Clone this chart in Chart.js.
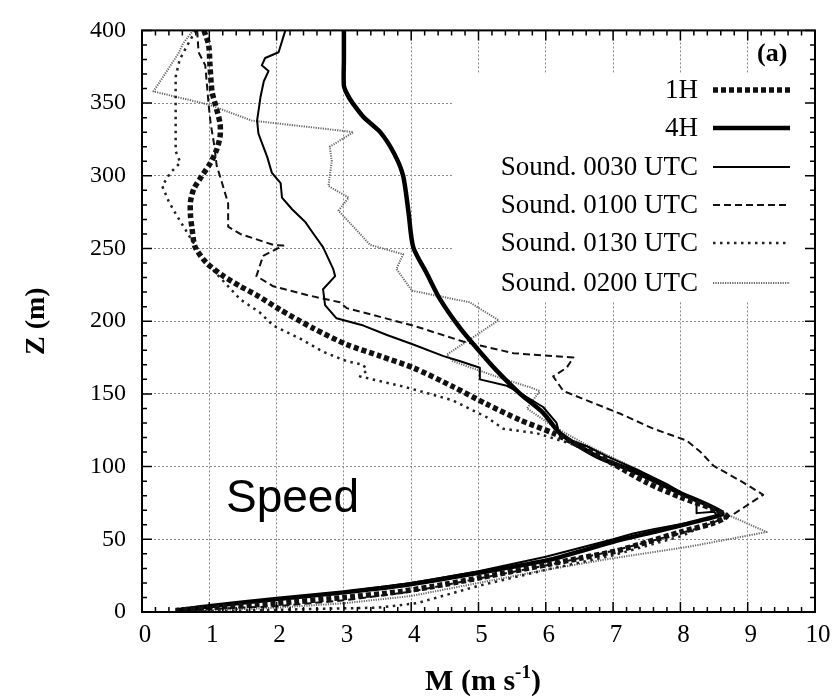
<!DOCTYPE html>
<html>
<head>
<meta charset="utf-8">
<script src="https://cdn.jsdelivr.net/npm/chart.js@4/dist/chart.umd.min.js"></script>
<style>
  html, body { margin: 0; padding: 0; background: #fff; }
  #c { display: block; }
</style>
</head>
<body>
<canvas id="c" width="838" height="699"></canvas>
<script>
// Wind speed profiles M (m s-1) against height Z (m): two model runs and four soundings.

const h1M = [0.92,0.99,1.01,1.04,1.09,1.16,1.16,1.11,1.02,0.89,0.77,0.72,0.72,0.74,0.79,0.96,1.21,1.46,1.70,2.05,2.55,3.04,3.54,4.03,4.62,5.12,5.62,6.11,6.51,7.00,7.50,8.00,8.48,8.69,8.48,8.00,7.50,7.05,6.51,6.06,5.07,4.50,3.83,3.00,2.00,1.00,0.50];
const h1Z = [400,390,376,358,349,336,327,318,309,300,291,282,273,265,251,240,231,224,218,208,195,184,176,168,155,143,132,123,114,102,89,79,71,66,61,55,48,42,37,33,24,19,14,10,6,3,1];

const h4M = [3.00,3.00,3.00,3.05,3.13,3.30,3.54,3.75,3.88,3.96,4.03,4.23,4.43,4.73,5.02,5.27,5.62,5.96,6.21,6.76,7.35,7.99,8.62,8.30,7.60,7.05,6.06,5.00,3.83,3.00,2.00,1.00,0.50];
const h4Z = [400,380,362,356,350,340,330,315,300,275,251,233,215,195,179,166,150,137,123,107,96,82,68,63,55,49,36,27,18,13.5,9,4,1];

const s0030M = [2.13,2.03,1.83,1.78,1.88,1.81,1.76,1.71,1.73,1.86,1.93,2.06,2.08,2.23,2.43,2.55,2.69,2.84,2.87,2.69,2.72,2.89,3.29,3.64,4.03,4.48,4.73,5.02,5.02,5.42,5.57,5.96,6.16,6.21,6.61,6.91,7.35,7.80,8.24,8.24,8.50,8.55,8.20,7.60,7.30,7.00,6.50,6.00,5.00,4.00,3.00,2.00,1.00,0.50];
const s0030Z = [400,385,381,376,372,365,354,338,329,313,302,295,285,277,268,260,251,236,231,222,211,202,197,190.5,184,176,172.5,168,160,155.6,152,141,130,121,114,107,98,88,76,68,69,66,62,57,54,50,44,38,28,20,14,9,4,1];

const s0100M = [0.82,0.84,0.94,0.99,1.02,1.07,1.11,1.19,1.28,1.28,1.46,1.95,2.10,1.80,1.70,1.95,2.45,2.94,3.04,4.03,4.77,5.52,6.41,6.31,6.11,6.26,6.61,7.10,7.60,8.09,8.30,8.49,8.90,9.23,8.78,8.30,7.50,7.00,6.00,5.00,4.00,3.00,2.00,1.00,0.50];
const s0100Z = [400,385,376,349,336,322,307,295,281,265,260,252.5,252,245,231,224,218,213,209,197,186,178,175,168,162,152,145.5,136.5,126,118,110,100.6,90,80.6,67,58,48,42,32,23,14,8,4,2,0.5];

const s0130M = [0.80,0.70,0.56,0.50,0.50,0.50,0.57,0.42,0.30,0.40,0.50,0.71,0.85,1.00,1.20,1.46,1.75,1.95,2.35,2.69,3.04,3.29,3.34,3.24,3.93,4.43,4.62,5.12,5.37,5.86,6.36,7.00,7.50,8.00,8.50,8.70,8.50,8.00,7.00,6.00,5.00,4.08,3.50,2.50,1.00,0.50];
const s0130Z = [400,392,380,368,352,317,309,302,293,282,274,258,248,238,228,215,206,197,188,179,172.5,170,166,162,154.5,148,145.5,134,126,123,116,103,92,81,70,65,62,52,39,29,18,6,3,2,0.5,0];

const s0200M = [0.76,0.61,0.54,0.17,0.99,1.63,2.97,3.14,2.79,2.82,2.77,3.07,2.92,3.39,3.88,3.78,4.01,4.87,5.02,5.30,4.97,4.53,4.62,5.32,5.77,5.91,5.72,6.10,6.60,7.40,8.10,8.60,9.28,8.14,7.00,6.00,5.00,4.00,3.00,2.00,1.00,0.50];
const s0200Z = [400,391,384,358,349,338,331,330,320,310,293,285,276,252.5,246,236,221,213,208.6,200.7,190.5,177,172.5,161,154.5,152,140,128,115,97,80,69,55,45,37,29,20,11,6,3,1,0.5];

const seriesLabels = ['1H', '4H', 'Sound. 0030 UTC', 'Sound. 0100 UTC', 'Sound. 0130 UTC', 'Sound. 0200 UTC'];
const xTickValues = [0,1,2,3,4,5,6,7,8,9,10];
const yTickValues = [0,50,100,150,200,250,300,350,400];

const toPoints = (m, z) => m.map((v, i) => ({ x: v, y: z[i] }));

// model runs are smooth curves, soundings are drawn point to point
const styles = [
  { color: '#111', width: 5.5, dash: [5, 3], tension: 0.25 },
  { color: '#000', width: 4.5, dash: [], tension: 0.25 },
  { color: '#000', width: 2, dash: [], tension: 0 },
  { color: '#111', width: 2, dash: [7, 4], tension: 0 },
  { color: '#222', width: 2.5, dash: [2.5, 4.5], tension: 0 },
  { color: '#666', width: 2, dash: [1.2, 1.2], tension: 0 }
];
const seriesData = [
  toPoints(h1M, h1Z), toPoints(h4M, h4Z), toPoints(s0030M, s0030Z),
  toPoints(s0100M, s0100Z), toPoints(s0130M, s0130Z), toPoints(s0200M, s0200Z)
];

const datasets = seriesLabels.map((lab, i) => ({
  label: lab,
  data: seriesData[i],
  showLine: true,
  borderColor: styles[i].color,
  borderWidth: styles[i].width,
  borderDash: styles[i].dash,
  borderCapStyle: 'butt',
  borderJoinStyle: 'round',
  pointRadius: 0,
  tension: styles[i].tension,
  fill: false
}));

const SERIF = '"Liberation Serif", "DejaVu Serif", serif';

// white panel behind the key, hiding the grid there
const keyPanel = {
  id: 'keyPanel',
  beforeDatasetsDraw(chart) {
    const { ctx, chartArea: a } = chart;
    ctx.save();
    ctx.fillStyle = '#fff';
    ctx.fillRect(452, 73, a.right - 452, 229);
    ctx.restore();
  }
};

// frame with inward major and minor ticks, key, titles and annotations
const decorations = {
  id: 'decorations',
  afterDatasetsDraw(chart) {
    const { ctx, chartArea: a, scales: { x, y } } = chart;
    ctx.save();
    ctx.strokeStyle = '#000';
    ctx.lineWidth = 2;
    ctx.setLineDash([]);
    ctx.strokeRect(a.left, a.top, a.right - a.left, a.bottom - a.top);
    ctx.lineWidth = 1.5;
    ctx.beginPath();
    for (let k = 0; k <= 50; k++) {
      const v = k / 5;
      const px = x.getPixelForValue(v);
      const len = (k % 5 === 0) ? 10 : 5;
      ctx.moveTo(px, a.bottom); ctx.lineTo(px, a.bottom - len);
      ctx.moveTo(px, a.top); ctx.lineTo(px, a.top + len);
    }
    for (let k = 0; k <= 40; k++) {
      const v = k * 10;
      const py = y.getPixelForValue(v);
      const len = (k % 5 === 0) ? 10 : 5;
      ctx.moveTo(a.left, py); ctx.lineTo(a.left + len, py);
      ctx.moveTo(a.right, py); ctx.lineTo(a.right - len, py);
    }
    ctx.stroke();

    // key
    const rowY = [90, 128, 167, 205, 243, 283];
    ctx.font = '27px ' + SERIF;
    ctx.fillStyle = '#000';
    ctx.textAlign = 'right';
    ctx.textBaseline = 'middle';
    chart.data.datasets.forEach((ds, i) => {
      ctx.fillText(ds.label, 698, rowY[i] + 1);
      ctx.save();
      ctx.strokeStyle = ds.borderColor;
      ctx.lineWidth = ds.borderWidth;
      ctx.setLineDash(ds.borderDash);
      ctx.lineCap = 'butt';
      ctx.beginPath();
      ctx.moveTo(713, rowY[i]);
      ctx.lineTo(790, rowY[i]);
      ctx.stroke();
      ctx.restore();
    });

    // panel tag
    ctx.font = 'bold 26px ' + SERIF;
    ctx.textAlign = 'left';
    ctx.textBaseline = 'alphabetic';
    ctx.fillText('(a)', 757, 61);

    // annotation
    ctx.font = '46px "Liberation Sans", Arial, sans-serif';
    ctx.fillText('Speed', 226, 512);
    ctx.restore();
  },
  afterDraw(chart) {
    const { ctx, chartArea: a } = chart;
    ctx.save();
    ctx.fillStyle = '#000';
    // y title
    ctx.translate(37, (a.top + a.bottom) / 2);
    ctx.rotate(-Math.PI / 2);
    ctx.font = 'bold 28px ' + SERIF;
    ctx.textAlign = 'center';
    ctx.textBaseline = 'middle';
    ctx.fillText('Z (m)', 0, 0);
    ctx.restore();

    // x title with superscript
    ctx.save();
    ctx.fillStyle = '#000';
    ctx.textBaseline = 'alphabetic';
    const main = 'M (m s', sup = '-1', close = ')';
    ctx.font = 'bold 30px ' + SERIF;
    const w1 = ctx.measureText(main).width;
    const w3 = ctx.measureText(close).width;
    ctx.font = 'bold 19px ' + SERIF;
    const w2 = ctx.measureText(sup).width;
    const cx = 483;
    const sx = cx - (w1 + w2 + w3) / 2;
    const base = 690;
    ctx.font = 'bold 30px ' + SERIF;
    ctx.textAlign = 'left';
    ctx.fillText(main, sx, base);
    ctx.font = 'bold 19px ' + SERIF;
    ctx.fillText(sup, sx + w1, base - 12);
    ctx.font = 'bold 30px ' + SERIF;
    ctx.fillText(close, sx + w1 + w2, base);
    ctx.restore();
  }
};

new Chart(document.getElementById('c'), {
  type: 'scatter',
  data: { datasets },
  options: {
    responsive: false,
    animation: false,
    devicePixelRatio: 1,
    layout: { padding: { top: 20, right: 23, left: 0, bottom: 0 } },
    plugins: { legend: { display: false }, tooltip: { enabled: false } },
    scales: {
      x: {
        type: 'linear', min: 0, max: 10,
        afterBuildTicks: s => { s.ticks = xTickValues.map(v => ({ value: v })); },
        afterFit: s => { s.height = 87; },
        ticks: { font: { family: SERIF, size: 25 }, color: '#000', padding: 8, labelOffset: 3 },
        grid: { color: '#8a8a8a', lineWidth: 1, drawTicks: false },
        border: { display: false, dash: [2, 2] }
      },
      y: {
        type: 'linear', min: 0, max: 400,
        afterBuildTicks: s => { s.ticks = yTickValues.map(v => ({ value: v })); },
        afterFit: s => { s.width = 142; },
        ticks: { font: { family: SERIF, size: 24 }, color: '#000', padding: 16 },
        grid: { color: '#8a8a8a', lineWidth: 1, drawTicks: false },
        border: { display: false, dash: [2, 2] }
      }
    }
  },
  plugins: [keyPanel, decorations]
});
</script>
</body>
</html>
